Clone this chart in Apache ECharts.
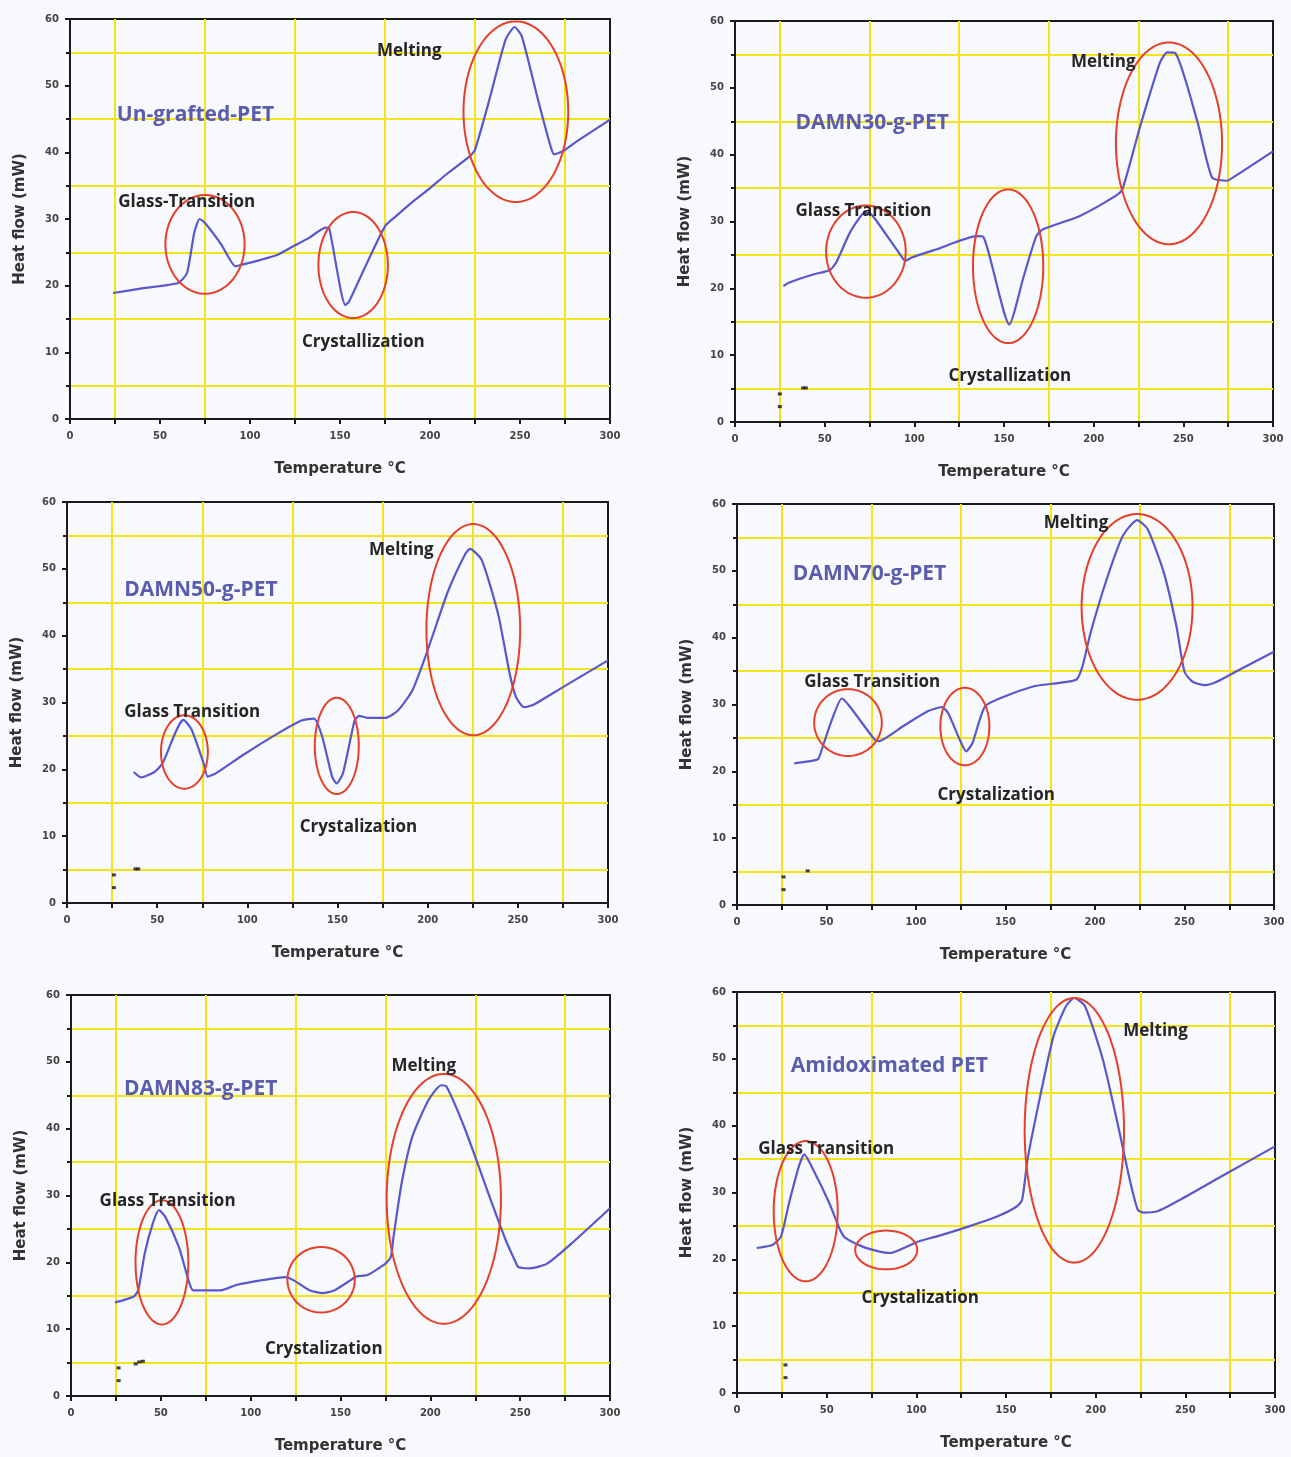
<!DOCTYPE html>
<html><head><meta charset="utf-8">
<script src="https://cdn.jsdelivr.net/npm/echarts@6/dist/echarts.min.js"></script>
<style>html,body{margin:0;padding:0;background:#f8f9fc}#c{width:1291px;height:1457px}</style>
</head><body><div id="c"></div><script>
// ---------- DATA ----------
const sampleNames = ['Un-grafted-PET','DAMN30-g-PET','DAMN50-g-PET','DAMN70-g-PET','DAMN83-g-PET','Amidoximated PET'];
const xTickStep = 50, yTickStep = 10;   // tick labels 0..300 and 0..60

const temp1 = [24, 40, 60, 65, 69, 72, 75, 84, 92, 95, 105, 115, 124, 133, 142, 144, 153, 155, 165, 175, 181, 190, 199, 210, 222, 225, 233, 242, 247, 251, 260, 267, 269, 274, 283, 300];
const heat1 = [18.9, 19.6, 20.4, 21.9, 27.9, 30, 29.4, 26.2, 22.9, 23.1, 23.8, 24.6, 25.9, 27.2, 28.7, 28.6, 17.1, 17.6, 23.4, 28.9, 30.4, 32.5, 34.4, 36.9, 39.4, 40.4, 47.9, 56.9, 58.8, 57.4, 47.9, 40.9, 39.7, 40.2, 41.9, 44.9];

const temp2 = [27, 30, 44, 53, 56.5, 64, 71, 74.5, 77.5, 92, 95, 98.5, 112, 135, 138.5, 153, 161, 168, 171.5, 192, 212, 216, 226, 237, 241, 245.5, 258, 266, 274, 276, 300];
const heat2 = [20.35, 20.85, 22.1, 22.75, 23.9, 28.3, 31.1, 31.3, 30.6, 25.1, 24.1, 24.6, 25.8, 27.8, 27.7, 14.6, 21.8, 27.8, 28.8, 30.8, 33.8, 34.8, 44.3, 53.8, 55.3, 55.2, 44.8, 36.6, 36.1, 36.3, 40.5];

const temp3 = [37, 41, 48.5, 53, 59, 62.5, 64.5, 69, 76, 78, 82.5, 98.5, 116.5, 130, 137, 141.5, 147, 149.5, 153, 159.5, 162, 166.5, 176.5, 183.5, 191.5, 198, 202.5, 211.5, 221, 223.5, 230, 239, 245.5, 249, 253.5, 259, 275, 300];
const heat3 = [19.6, 18.8, 19.6, 20.9, 24.8, 26.8, 27.4, 26, 20.7, 18.9, 19.4, 22.3, 25.3, 27.3, 27.6, 24.9, 18.9, 17.9, 19.4, 27.3, 28, 27.7, 27.7, 28.8, 31.8, 36.3, 39.8, 46.8, 52.3, 53, 51.3, 43.3, 34.3, 30.8, 29.3, 29.7, 32.3, 36.3];

const temp4 = [32, 42.5, 45.5, 48.5, 53, 58.5, 63, 77, 79, 92.5, 106.5, 114.5, 118, 124.5, 128, 131.5, 138.5, 149.5, 165.5, 176, 189.5, 193, 197.5, 206.5, 215.5, 223.5, 229.5, 238.5, 245.5, 250, 254.5, 261.5, 268, 282, 300];
const heat4 = [21.2, 21.6, 21.9, 24.2, 27.7, 30.9, 29.7, 24.7, 24.5, 26.7, 29, 29.6, 28.7, 24.7, 23, 24.2, 29.7, 31.2, 32.7, 33.1, 33.7, 35.7, 40.7, 48.7, 55.2, 57.6, 56.2, 49.7, 41.7, 34.9, 33.4, 32.9, 33.4, 35.4, 37.9];

const temp5 = [24.5, 35, 37.5, 41, 45.5, 49, 52.5, 60, 66, 68, 83, 92, 105.5, 119.5, 124, 133, 140, 146.5, 155.5, 159, 165, 175, 178, 179.5, 184, 190, 199, 206, 209, 219.5, 233, 242, 247, 249, 255.5, 265, 278.5, 292, 300];
const heat5 = [14, 14.9, 15.9, 21.3, 25.8, 27.8, 26.8, 22.3, 16.8, 15.8, 15.8, 16.6, 17.3, 17.8, 17.3, 15.8, 15.4, 15.8, 17.3, 17.9, 18.1, 19.8, 20.8, 23.8, 31.8, 38.8, 44.3, 46.5, 46.3, 39.8, 29.8, 23.3, 20.3, 19.3, 19.1, 19.8, 22.8, 26.1, 28.1];

const temp6 = [11, 20, 24.5, 29, 34.5, 37.5, 42.5, 51.5, 57.5, 60.5, 70, 79, 85.5, 90.5, 101.5, 111, 129, 145, 156, 159, 162, 167.5, 176.5, 183.5, 188, 194, 204, 213, 219, 223.5, 226.5, 234.5, 247, 270, 300];
const heat6 = [21.7, 22.2, 23.4, 28.4, 33.9, 35.7, 33.4, 28.4, 24.4, 23.2, 21.9, 21.2, 20.95, 21.4, 22.7, 23.4, 24.9, 26.4, 27.9, 28.9, 34.9, 42.4, 53.4, 57.9, 59.1, 57.9, 49.9, 39.4, 31.9, 27.4, 27, 27.2, 28.9, 32.4, 36.9];

// highlighted regions: [centre temp, centre heat flow, half-width (°C), half-height (mW)]
const regions1 = [[75, 26.2, 22, 7.4], [157.3, 23.1, 19.3, 7.95], [247.7, 46.1, 29.1, 13.55]];
const regions2 = [[73, 25.5, 22.2, 6.9], [152.3, 23.3, 19.6, 11.5], [242, 41.7, 29.6, 15.1]];
const regions3 = [[65.1, 22.6, 13, 5.5], [149.6, 23.5, 12.2, 7.2], [225.3, 40.9, 26, 15.8]];
const regions4 = [[62, 27.3, 18.9, 5.0], [127.3, 26.7, 13.7, 5.8], [223.5, 44.6, 31, 13.9]];
const regions5 = [[50.6, 20, 14.7, 9.3], [139.2, 17.4, 18.75, 4.9], [207.5, 29.5, 31.8, 18.7]];
const regions6 = [[38.3, 27.2, 17.85, 10.5], [83.2, 21.4, 17.3, 2.9], [188.1, 39.3, 27.7, 19.8]];

// annotation texts: [text, temp of left edge, heat flow]
const notes1 = [['Melting', 170.5, 55.2], ['Glass-Transition', 26.8, 32.6], ['Crystallization', 128.9, 11.6]];
const notes2 = [['Melting', 187.3, 53.8], ['Glass Transition', 33.7, 31.6], ['Crystallization', 119, 6.9]];
const notes3 = [['Melting', 167.5, 52.8], ['Glass Transition', 31.7, 28.5], ['Crystalization', 129, 11.4]];
const notes4 = [['Melting', 171.3, 57.2], ['Glass Transition', 37.6, 33.3], ['Crystalization', 112, 16.5]];
const notes5 = [['Melting', 178.4, 49.3], ['Glass Transition', 15.9, 29.2], ['Crystalization', 108, 7.0]];
const notes6 = [['Melting', 215.4, 54.1], ['Glass Transition', 11.8, 36.5], ['Crystalization', 69.4, 14.2]];
const namePos = [[26, 45.6], [33.7, 44.8], [31.7, 46.9], [31.2, 49.5], [29.5, 46.0], [30, 48.9]];

// stray marks left in the scanned figure
const marks = [[], [[25, 4.2], [25, 2.3], [38, 5.1], [39.5, 5.1]], [[26, 4.2], [26, 2.3], [38, 5.1], [39.5, 5.1]],
  [[26, 4.2], [26, 2.3], [39.5, 5.1]], [[26.5, 4.2], [26.5, 2.3], [36, 4.8], [38, 5.1], [40, 5.2]], [[27, 4.2], [27, 2.3]]];

// ---------- LAYOUT / STYLE ----------
const temps = [temp1, temp2, temp3, temp4, temp5, temp6];
const heats = [heat1, heat2, heat3, heat4, heat5, heat6];
const regions = [regions1, regions2, regions3, regions4, regions5, regions6];
const notes = [notes1, notes2, notes3, notes4, notes5, notes6];
const grids = [
  {left: 70, top: 19, width: 540, height: 400},
  {left: 735, top: 21, width: 538, height: 401},
  {left: 67, top: 502, width: 541, height: 401},
  {left: 737, top: 504, width: 537, height: 401},
  {left: 71, top: 995, width: 539, height: 401},
  {left: 737, top: 992, width: 538, height: 401}
];
const YEL = '#f3e417', BLK = '#1a1a1a', CURVE = '#5858cc', RED = '#e5402a', NAMECOL = '#5a5cae';
const tickFont = 'DejaVu Sans';

const option = {
  backgroundColor: '#f8f9fc',
  animation: false,
  grid: grids.map(g => Object.assign({show: true, borderColor: BLK, borderWidth: 2, backgroundColor: 'transparent'}, g)),
  xAxis: grids.map((g, i) => ({
    gridIndex: i, type: 'value', min: 0, max: 300, interval: xTickStep,
    name: 'Temperature °C', nameLocation: 'middle', nameGap: 43,
    nameTextStyle: {fontFamily: tickFont, fontWeight: 'bold', fontSize: 15, color: '#333'},
    axisLine: {onZero: false, lineStyle: {color: BLK, width: 2}},
    axisTick: {show: true, length: 5, lineStyle: {color: BLK, width: 2}},
    minorTick: {show: true, splitNumber: 2, length: 5, lineStyle: {color: BLK, width: 2}},
    splitLine: {show: false},
    minorSplitLine: {show: true, lineStyle: {color: YEL, width: 2}},
    axisLabel: {fontFamily: tickFont, fontSize: 10, fontWeight: 'bold', color: '#444', margin: 12}
  })),
  yAxis: grids.map((g, i) => ({
    gridIndex: i, type: 'value', min: 0, max: 60, interval: yTickStep,
    name: 'Heat flow (mW)', nameLocation: 'middle', nameGap: 42,
    nameTextStyle: {fontFamily: tickFont, fontWeight: 'bold', fontSize: 15, color: '#333'},
    axisLine: {onZero: false, lineStyle: {color: BLK, width: 2}},
    axisTick: {show: true, length: 5, lineStyle: {color: BLK, width: 2}},
    minorTick: {show: true, splitNumber: 2, length: 4, lineStyle: {color: BLK, width: 2}},
    splitLine: {show: false},
    minorSplitLine: {show: true, lineStyle: {color: YEL, width: 2}},
    axisLabel: {fontFamily: tickFont, fontSize: 10, fontWeight: 'bold', color: '#444', margin: 11}
  })),
  series: []
};

grids.forEach((g, i) => {
  // DSC curve
  option.series.push({
    type: 'line', xAxisIndex: i, yAxisIndex: i, symbol: 'none', smooth: 0.2, z: 3,
    lineStyle: {color: CURVE, width: 2.2},
    data: temps[i].map((t, k) => [t, heats[i][k]])
  });
  // red ellipses
  option.series.push({
    type: 'custom', xAxisIndex: i, yAxisIndex: i, z: 4, clip: false,
    data: regions[i],
    renderItem: function (params, api) {
      const c = api.coord([api.value(0), api.value(1)]);
      const s = api.size([api.value(2), api.value(3)]);
      const pts = [];
      for (let k = 0; k <= 90; k++) {
        const a = 2 * Math.PI * k / 90;
        pts.push([c[0] + s[0] * Math.cos(a), c[1] + s[1] * Math.sin(a)]);
      }
      return {type: 'polyline', shape: {points: pts}, style: {fill: null, stroke: RED, lineWidth: 2}};
    }
  });
  // annotation texts
  const noteData = notes[i].map(n => [n[1], n[2], 0]).concat([[namePos[i][0], namePos[i][1], 1]]);
  const noteText = notes[i].map(n => n[0]).concat([sampleNames[i]]);
  option.series.push({
    type: 'custom', xAxisIndex: i, yAxisIndex: i, z: 5, clip: false,
    data: noteData,
    renderItem: function (params, api) {
      const p = api.coord([api.value(0), api.value(1)]);
      const isName = api.value(2) === 1;
      return {type: 'text', x: p[0], y: p[1], style: {
        text: noteText[params.dataIndex], align: 'left', verticalAlign: 'middle',
        fill: isName ? NAMECOL : '#262626',
        font: isName ? 'bold 21px "Open Sans"' : 'bold 17px "Open Sans"'
      }};
    }
  });
  // stray marks
  if (marks[i].length) option.series.push({
    type: 'scatter', xAxisIndex: i, yAxisIndex: i, symbol: 'rect', symbolSize: [4, 3], z: 5,
    itemStyle: {color: '#111'}, data: marks[i]
  });
});

const chart = echarts.init(document.getElementById('c'));
chart.setOption(option);
</script></body></html>
